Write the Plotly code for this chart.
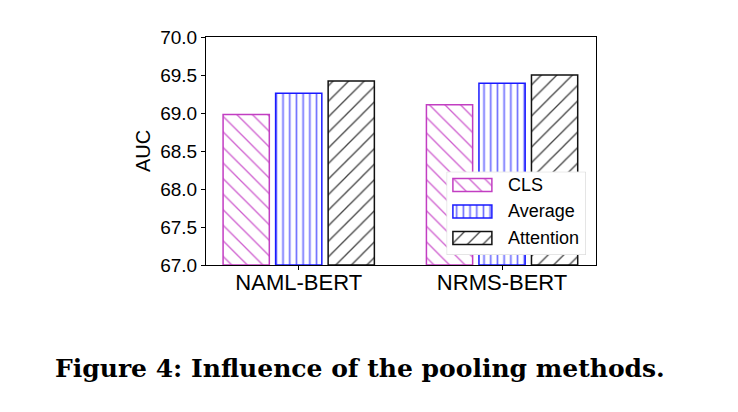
import plotly.graph_objects as go

categories = ["NAML-BERT", "NRMS-BERT"]
series_names = ["CLS", "Average", "Attention"]
cls_vals = [68.98, 69.11]
avg_vals = [69.26, 69.39]
att_vals = [69.42, 69.50]
y_ticks = [67.0, 67.5, 68.0, 68.5, 69.0, 69.5, 70.0]
y_base = 67.0

styles = [
    dict(edge="#c23ec2", hatch="#cf5fcf", shape="\\", size=11, sol=0.12),
    dict(edge="#1a1aff", hatch="#7070ff", shape="|", size=6.7, sol=0.25),
    dict(edge="#111111", hatch="#444444", shape="/", size=11, sol=0.12),
]

def marker_for(st):
    return dict(
        color="white",
        line=dict(color=st["edge"], width=1.5),
        pattern=dict(shape=st["shape"], fgcolor=st["hatch"], bgcolor="white",
                     size=st["size"], solidity=st["sol"], fillmode="replace"),
    )

fig = go.Figure()
for name, vals, st in zip(series_names, [cls_vals, avg_vals, att_vals], styles):
    fig.add_trace(go.Bar(
        x=categories, y=[v - y_base for v in vals], base=y_base, name=name,
        marker=marker_for(st), showlegend=False, xaxis="x", yaxis="y",
    ))

# custom legend drawn in a small overlay axis: box, swatches, labels
leg_top, leg_bottom = -0.5, 2.64
fig.add_trace(go.Bar(
    y=[(leg_top + leg_bottom) / 2], x=[1.0], base=[0.0], orientation="h",
    width=leg_bottom - leg_top, offset=-(leg_bottom - leg_top) / 2,
    marker=dict(color="rgba(255,255,255,0.88)", line=dict(color="#d0d0d0", width=1)),
    showlegend=False, xaxis="x2", yaxis="y2", hoverinfo="skip",
))
for i, (name, st) in enumerate(zip(series_names, styles)):
    fig.add_trace(go.Bar(
        y=[i], x=[0.28], base=[0.045], orientation="h", width=0.49, offset=-0.245,
        marker=marker_for(st), showlegend=False, xaxis="x2", yaxis="y2",
        hoverinfo="skip",
    ))

annotations = [dict(
    text=name, xref="x2", yref="y2", x=0.425, y=i, xanchor="left", yanchor="middle",
    showarrow=False, font=dict(size=18, family="Liberation Sans, Arial, sans-serif", color="black"),
) for i, name in enumerate(series_names)]

annotations.append(dict(
    text="<b>Figure 4: Influence of the pooling methods.</b>",
    xref="paper", yref="paper", x=0.395, y=-0.456,
    xanchor="center", yanchor="middle", showarrow=False,
    font=dict(family="DejaVu Serif, serif", size=25, color="black"),
))

fig.update_layout(
    width=738, height=412,
    margin=dict(l=206, r=142, t=37, b=147),
    paper_bgcolor="white", plot_bgcolor="white",
    barmode="group", bargap=0.225, bargroupgap=0.12,
    font=dict(family="Liberation Sans, Arial, sans-serif", color="black"),
    showlegend=False,
    xaxis=dict(
        range=[-0.456, 1.462], showline=True, linecolor="black", linewidth=1,
        mirror=True, ticks="outside", ticklen=4, tickcolor="black",
        tickfont=dict(size=22), showgrid=False, ticklabelstandoff=-6,
    ),
    yaxis=dict(
        range=[67.0, 70.0], tickvals=y_ticks, ticktext=[f"{v:.1f}" for v in y_ticks],
        showline=True, linecolor="black", linewidth=1, mirror=True,
        ticks="outside", ticklen=4, tickcolor="black", showgrid=False,
        tickfont=dict(size=19), title=dict(text="AUC", font=dict(size=20), standoff=4),
    ),
    xaxis2=dict(domain=[0.617, 0.974], range=[0, 1], anchor="y2", visible=False,
                fixedrange=True),
    yaxis2=dict(domain=[0.044, 0.409], range=[leg_bottom, leg_top], anchor="x2",
                visible=False, fixedrange=True),
    annotations=annotations,
)
fig.write_html("out.html")
